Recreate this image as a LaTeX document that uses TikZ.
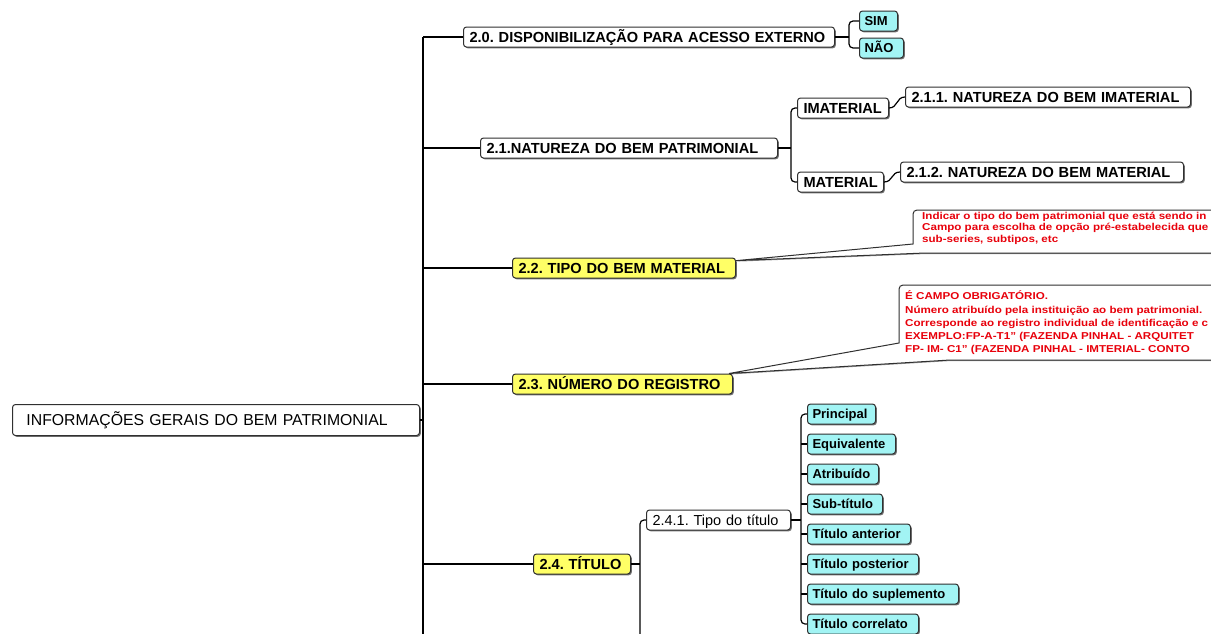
\documentclass[tikz,border=0pt]{standalone}
\usepackage{fontspec}
\setmainfont{Liberation Sans}
\newfontfamily\redfont[FakeStretch=1.16]{Liberation Sans}
\usetikzlibrary{shadows,calc}
\definecolor{boxyellow}{HTML}{FFFF66}
\definecolor{boxcyan}{HTML}{A2F4F4}
\definecolor{notered}{HTML}{E8000B}
\definecolor{edgegray}{HTML}{303030}
\frenchspacing
\begin{document}
\begin{tikzpicture}[x=1pt,y=-1pt,
  box/.style={draw=edgegray, line width=1pt, rounded corners=3pt, fill=white, anchor=west,
    align=left, inner xsep=6pt, inner ysep=0pt, minimum height=20pt,
    text height=10.4pt, text depth=0pt,
    font=\bfseries\fontsize{14.6}{16}\selectfont,
    drop shadow={shadow xshift=1.3pt, shadow yshift=-1.3pt, opacity=0.55, fill=black}},
  ybox/.style={box, fill=boxyellow},
  cbox/.style={box, fill=boxcyan, minimum height=20pt, inner xsep=5pt,
    text height=9.3pt, font=\bfseries\fontsize{13}{15}\selectfont},
  link/.style={draw=black, line width=1.2pt},
  note/.style={anchor=north west, align=left, inner sep=0pt, text=notered,
    font=\redfont\bfseries\fontsize{10}{11.4}\selectfont},
  callout/.style={draw=edgegray, line width=1pt, fill=white,
    drop shadow={shadow xshift=1pt, shadow yshift=-1pt, opacity=0.4, fill=black}},
]
\clip (0,0) rectangle (1211,633);
\fill[white] (0,0) rectangle (1211,633);

% trunk
\coordinate (ttop) at (423,37);
\coordinate (tbot) at (423,645);
\draw[link] (ttop) -- (tbot);

% nodes
\node[box, font=\fontsize{15.8}{18}\selectfont, text height=11.3pt, inner xsep=14pt, text width=379pt, minimum height=31pt] (root) at (12,420) {INFORMAÇÕES GERAIS DO BEM PATRIMONIAL};

\node[box, text width=359pt] (n20) at (463,37) {2.0. DISPONIBILIZAÇÃO PARA ACESSO EXTERNO};
\node[cbox, text width=28pt] (sim) at (859,21) {SIM};
\node[cbox, text width=34pt] (nao) at (859,48) {NÃO};

\node[box, text width=285pt] (n21) at (480,148) {2.1.NATUREZA DO BEM PATRIMONIAL};
\node[box, text width=79pt] (im) at (797,108) {IMATERIAL};
\node[box, text width=74pt] (mat) at (797,182) {MATERIAL};
\node[box, text width=273pt] (n211) at (905,97) {2.1.1. NATUREZA DO BEM IMATERIAL};
\node[box, text width=271pt] (n212) at (900,172) {2.1.2. NATUREZA DO BEM MATERIAL};

\node[ybox, text width=211pt] (n22) at (512,268) {2.2. TIPO DO BEM MATERIAL};
\node[ybox, text width=208pt] (n23) at (512,384) {2.3. NÚMERO DO REGISTRO};
\node[ybox, text width=85pt] (n24) at (533,564) {2.4. TÍTULO};

\node[box, font=\fontsize{14.5}{16}\selectfont, text width=132pt] (n241) at (646,520) {2.4.1. Tipo do título};

\node[cbox, text width=58pt]  (c1) at (807,414) {Principal};
\node[cbox, text width=78pt]  (c2) at (807,444) {Equivalente};
\node[cbox, text width=61pt]  (c3) at (807,474) {Atribuído};
\node[cbox, text width=65pt]  (c4) at (807,504) {Sub-título};
\node[cbox, text width=93pt]  (c5) at (807,534) {Título anterior};
\node[cbox, text width=101pt] (c6) at (807,564) {Título posterior};
\node[cbox, text width=141pt] (c7) at (807,594) {Título do suplemento};
\node[cbox, text width=101pt] (c8) at (807,624) {Título correlato};

% trunk branches
\draw[link] (ttop) -- (n20.west);
\draw[link] (root.east) -- (root.east -| ttop);
\foreach \n in {n21,n22,n23,n24} \draw[link] (\n.west -| ttop) -- (\n.west);

% 2.0 bracket
\coordinate (b20) at ($(n20.east)+(14,0)$);
\draw[link] (n20.east) -- (b20);
\draw[link, rounded corners=4pt] (sim.west) -| (b20) |- (nao.west);

% 2.1 bracket
\coordinate (b21) at ($(n21.east)+(13,0)$);
\draw[link] (n21.east) -- (b21);
\draw[link, rounded corners=4pt] (im.west) -| (b21) |- (mat.west);
\draw[link] (im.east) .. controls +(9,0) and +(-9,0) .. (n211.west);
\draw[link] (mat.east) .. controls +(9,0) and +(-9,0) .. (n212.west);

% 2.4 bracket
\coordinate (b24) at ($(n24.east)+(9,0)$);
\draw[link] (n24.east) -- (b24);
\draw[link, rounded corners=4pt] (n241.west) -| (b24) -- (b24 |- tbot);

% 2.4.1 bracket
\coordinate (b241) at ($(n241.east)+(10,0)$);
\draw[link] (n241.east) -- (b241);
\draw[link, rounded corners=4pt] (c1.west) -| (b241) |- (c8.west);
\foreach \n in {c2,c3,c4,c5,c6,c7} \draw[link] (\n.west -| b241) -- (\n.west);

% callouts
\coordinate (tip22) at ($(n22.north east)!0.15!(n22.south east)$);
\filldraw[callout] (tip22) -- (913,244) -- (913,214) arc (180:270:4) -- (1240,210) -- (1240,253) -- (925,253) -- cycle;
\node[note] (t22) at (922,212) {Indicar o tipo do bem patrimonial que está sendo in\\Campo para escolha de opção pré-estabelecida que\\sub-series, subtipos, etc};

\coordinate (tip23) at ($(n23.north east)+(-4,0)$);
\filldraw[callout] (tip23) -- (899,343) -- (899,289) arc (180:270:4) -- (1240,285) -- (1240,360) -- (950,360) -- cycle;
\node[note, font=\redfont\bfseries\fontsize{10}{13}\selectfont] (t23) at (905,290) {É CAMPO OBRIGATÓRIO.\\[1pt]Número atribuído pela instituição ao bem patrimonial.\\Corresponde ao registro individual de identificação e c\\EXEMPLO:FP-A-T1” (FAZENDA PINHAL - ARQUITET\\FP- IM- C1” (FAZENDA PINHAL - IMTERIAL- CONTO};
\end{tikzpicture}
\end{document}
